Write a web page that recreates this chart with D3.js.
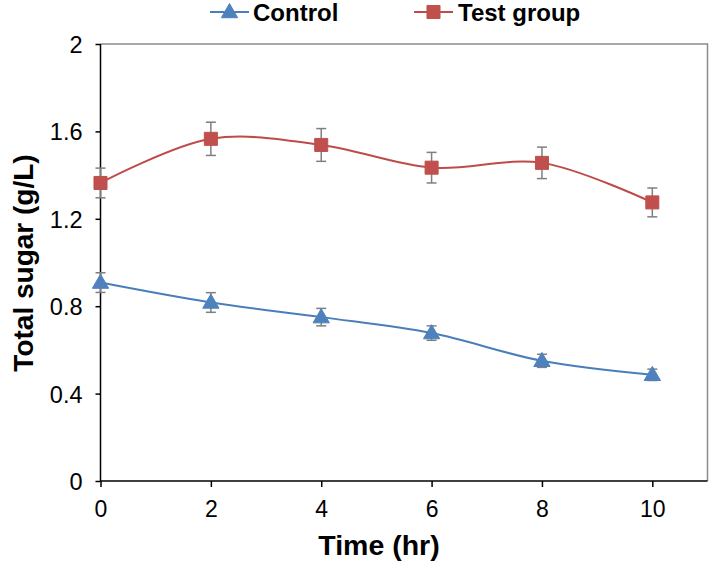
<!DOCTYPE html>
<html>
<head>
<meta charset="utf-8">
<script src="https://cdn.jsdelivr.net/npm/d3@7"></script>
<style>
  html, body { margin: 0; padding: 0; background: #fff; }
  svg { display: block; font-family: "Liberation Sans", Arial, sans-serif; }
</style>
</head>
<body>
<svg id="chart" width="709" height="562"></svg>
<script>
// ---- data ----
const times = [0, 2, 4, 6, 8, 10];
const controlValues = [0.908, 0.817, 0.750, 0.677, 0.550, 0.486];
const controlErrors = [0.045, 0.045, 0.040, 0.033, 0.030, 0.026];
const testValues = [1.364, 1.566, 1.538, 1.434, 1.456, 1.275];
const testErrors = [0.068, 0.076, 0.075, 0.070, 0.072, 0.066];
const xTicks = [0, 2, 4, 6, 8, 10];
const yTicks = [0, 0.4, 0.8, 1.2, 1.6, 2];
const yTickLabels = ["0", "0.4", "0.8", "1.2", "1.6", "2"];
const seriesNames = ["Control", "Test group"];
const xTitle = "Time (hr)";
const yTitle = "Total sugar (g/L)";

(function () {
// ---- layout ----
const svg = d3.select("#chart");
const pLeft = 100.5, pRight = 707.5, pTop = 44, pBottom = 481;
const x = d3.scaleLinear().domain([0, 11]).range([pLeft, pRight]);
const y = d3.scaleLinear().domain([0, 2]).range([pBottom, pTop]);

const blueLine = "#4A7EBB", blueFill = "#4F81BD";
const redLine = "#BE4B48", redFill = "#C0504D";
const errColor = "#7F7F7F";

// frame (top and right, gray)
svg.append("path")
  .attr("d", `M${pLeft},${pTop}H${pRight}V${pBottom}`)
  .attr("fill", "none").attr("stroke", "#8C8C8C").attr("stroke-width", 1.5);

// axes
const xAxis = d3.axisBottom(x).tickValues(xTicks).tickSize(6).tickFormat(d3.format("d"));
const gx = svg.append("g").attr("transform", `translate(0,${pBottom})`).call(xAxis);
gx.select(".domain").attr("d", `M${pLeft},0H${pRight}`).attr("stroke", "#000").attr("stroke-width", 1.5);
gx.selectAll(".tick line").attr("stroke", "#000").attr("stroke-width", 1.5);
gx.selectAll(".tick text").attr("font-size", 23).attr("fill", "#000").attr("dy", 0).attr("y", 36)
  .attr("font-family", "'Liberation Sans', Arial, sans-serif");

const yAxis = d3.axisLeft(y).tickValues(yTicks).tickSize(5)
  .tickFormat((d, i) => yTickLabels[i]);
const gy = svg.append("g").attr("transform", `translate(${pLeft},0)`).call(yAxis);
gy.select(".domain").attr("d", `M0,${pTop}V${pBottom}`).attr("stroke", "#000").attr("stroke-width", 1.5);
gy.selectAll(".tick line").attr("stroke", "#000").attr("stroke-width", 1.5);
gy.selectAll(".tick text").attr("font-size", 23.5).attr("fill", "#000").attr("x", -18).attr("dy", "0.36em")
  .attr("font-family", "'Liberation Sans', Arial, sans-serif");

// axis titles
svg.append("text").attr("x", 379).attr("y", 555).attr("text-anchor", "middle")
  .attr("font-size", 28.5).attr("font-weight", "bold").text(xTitle);
svg.append("text").attr("transform", "translate(33,263) rotate(-90)").attr("text-anchor", "middle")
  .attr("font-size", 28).attr("font-weight", "bold").text(yTitle);

// series
const series = [
  { name: seriesNames[0], vals: controlValues, errs: controlErrors, line: blueLine, fill: blueFill, shape: d3.symbolTriangle, size: 115 },
  { name: seriesNames[1], vals: testValues, errs: testErrors, line: redLine, fill: redFill, shape: d3.symbolSquare, size: 170 }
];

const lineGen = d3.line().x(d => x(d.t)).y(d => y(d.v)).curve(d3.curveCatmullRom.alpha(0.5));

series.forEach(s => {
  const pts = times.map((t, i) => ({ t, v: s.vals[i], e: s.errs[i] }));
  const g = svg.append("g");
  g.append("path").datum(pts).attr("d", lineGen).attr("fill", "none")
    .attr("stroke", s.line).attr("stroke-width", 2);
  // error bars
  const eb = g.selectAll(".eb").data(pts).enter().append("g");
  eb.append("line").attr("x1", d => x(d.t)).attr("x2", d => x(d.t))
    .attr("y1", d => y(d.v + d.e)).attr("y2", d => y(d.v - d.e))
    .attr("stroke", errColor).attr("stroke-width", 1.5);
  eb.append("line").attr("x1", d => x(d.t) - 5).attr("x2", d => x(d.t) + 5)
    .attr("y1", d => y(d.v + d.e)).attr("y2", d => y(d.v + d.e))
    .attr("stroke", errColor).attr("stroke-width", 1.5);
  eb.append("line").attr("x1", d => x(d.t) - 5).attr("x2", d => x(d.t) + 5)
    .attr("y1", d => y(d.v - d.e)).attr("y2", d => y(d.v - d.e))
    .attr("stroke", errColor).attr("stroke-width", 1.5);
  // markers
  g.selectAll(".mk").data(pts).enter().append("path")
    .attr("d", d3.symbol().type(s.shape).size(s.size))
    .attr("transform", d => `translate(${x(d.t)},${y(d.v) + (s.shape === d3.symbolTriangle ? 1 : 0)})`)
    .attr("fill", s.fill).attr("stroke", s.fill).attr("stroke-width", 1);
});

// legend
const legendItems = [
  { s: series[0], x0: 210, x1: 249, tx: 253 },
  { s: series[1], x0: 414, x1: 453, tx: 458 }
];
const ly = 12;
legendItems.forEach(li => {
  svg.append("line").attr("x1", li.x0).attr("x2", li.x1).attr("y1", ly).attr("y2", ly)
    .attr("stroke", li.s.line).attr("stroke-width", 2);
  svg.append("path").attr("d", d3.symbol().type(li.s.shape).size(li.s.size)())
    .attr("transform", `translate(${(li.x0 + li.x1) / 2},${ly + (li.s.shape === d3.symbolTriangle ? 1 : 0)})`)
    .attr("fill", li.s.fill).attr("stroke", li.s.fill);
  svg.append("text").attr("x", li.tx).attr("y", ly + 8.5).attr("font-size", 24)
    .attr("font-weight", "bold").text(li.s.name);
});
})();
</script>
</body>
</html>
